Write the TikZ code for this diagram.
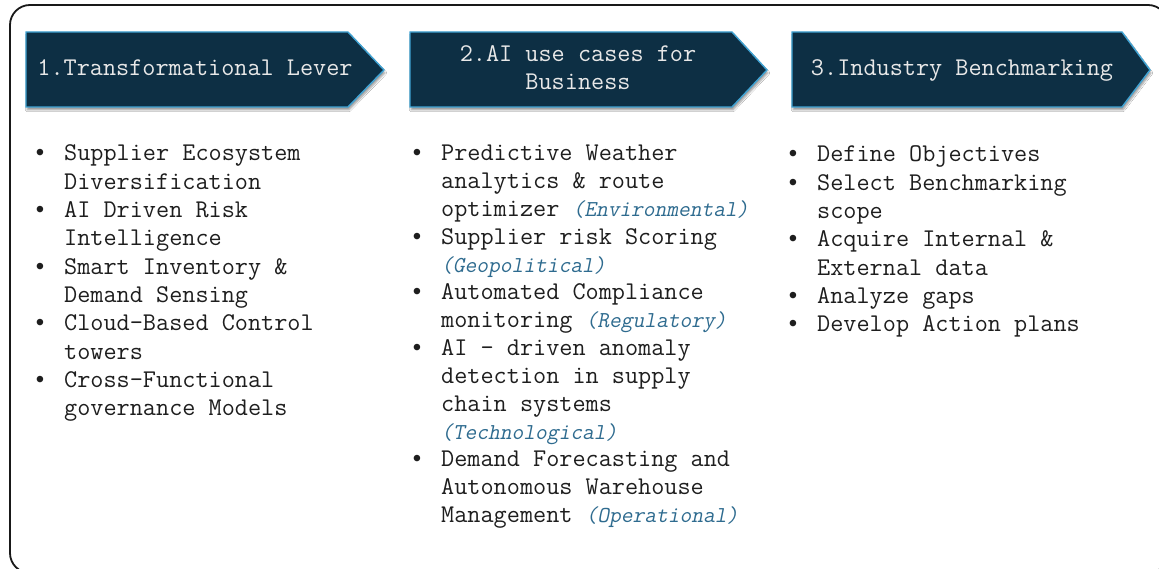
\documentclass[tikz,border=0pt]{standalone}
\usepackage{fontspec}
\usetikzlibrary{shadows.blur}
\newfontfamily\mono{Latin Modern Mono}
\newfontfamily\monosl[FakeSlant=0.2]{Latin Modern Mono}
\newfontfamily\bulfont{Liberation Mono}
\definecolor{navy}{HTML}{0D2F44}
\definecolor{edgeblue}{HTML}{3FA3D4}
\definecolor{catblue}{HTML}{2E6B8F}
\definecolor{ink}{HTML}{1E1E1E}
\definecolor{headtext}{HTML}{E8E8E8}
\tikzset{
  chevron/.style={fill=navy, draw=edgeblue, line width=1.4pt, line join=miter,
    blur shadow={shadow xshift=1pt, shadow yshift=-3pt, shadow blur steps=6, shadow opacity=40}},
  headtxt/.style={text=headtext, font=\mono\fontsize{25.5}{28}\selectfont, inner sep=0pt, anchor=base},
  body/.style={text=ink, font=\mono\fontsize{25.5}{28}\selectfont, inner sep=0pt, anchor=base west},
  frame/.style={draw=black!90, line width=1.8pt, rounded corners=20pt},
}
\newcommand\bul{\llap{{\bulfont\fontsize{24}{28}\selectfont •}\hspace{17pt}}}
\newcommand\cat[1]{{\monosl\fontsize{22.8}{28}\selectfont\color{catblue}#1}}
\begin{document}
\begin{tikzpicture}[x=1pt,y=-1pt]
\useasboundingbox (0,0) rectangle (1159,569);
\fill[white] (0,0) rectangle (1159,569);
% outer frame
\draw[frame] (10,5) rectangle (1168,573);

% header chevrons
\path[chevron] (26,32) -- (348,32) -- (384,70) -- (348,107) -- (26,107) -- cycle;
\path[chevron] (410,32) -- (732,32) -- (767,70) -- (732,107) -- (410,107) -- cycle;
\path[chevron] (792,32) -- (1122,32) -- (1150,70) -- (1122,107) -- (792,107) -- cycle;

\node[headtxt] (h1) at (195,76) {1.Transformational Lever};
\node[headtxt] (h2a) at (578,62) {2.AI use cases for};
\node[headtxt] (h2b) at (578,90) {Business};
\node[headtxt] (h3) at (962,76) {3.Industry Benchmarking};

% column 1
\foreach \t [count=\i] in {
  {\bul Supplier Ecosystem}, {Diversification},
  {\bul AI Driven Risk}, {Intelligence},
  {\bul Smart Inventory \&}, {Demand Sensing},
  {\bul Cloud-Based Control}, {towers},
  {\bul Cross-Functional}, {governance Models}}
  \node[body] (a\i) at (64,{161+28.3*(\i-1)}) {\t};

% column 2
\foreach \t [count=\i] in {
  {\bul Predictive Weather}, {analytics \& route},
  {optimizer \cat{(Environmental)}},
  {\bul Supplier risk Scoring}, {\cat{(Geopolitical)}},
  {\bul Automated Compliance}, {monitoring \cat{(Regulatory)}},
  {\bul AI - driven anomaly}, {detection in supply}, {chain systems},
  {\cat{(Technological)}},
  {\bul Demand Forecasting and}, {Autonomous Warehouse},
  {Management \cat{(Operational)}}}
  \node[body] (b\i) at (441,{161+27.8*(\i-1)}) {\t};

% column 3
\foreach \t [count=\i] in {
  {\bul Define Objectives},
  {\bul Select Benchmarking}, {scope},
  {\bul Acquire Internal \&}, {External data},
  {\bul Analyze gaps},
  {\bul Develop Action plans}}
  \node[body] (c\i) at (817,{162+28.3*(\i-1)}) {\t};
\end{tikzpicture}
\end{document}
